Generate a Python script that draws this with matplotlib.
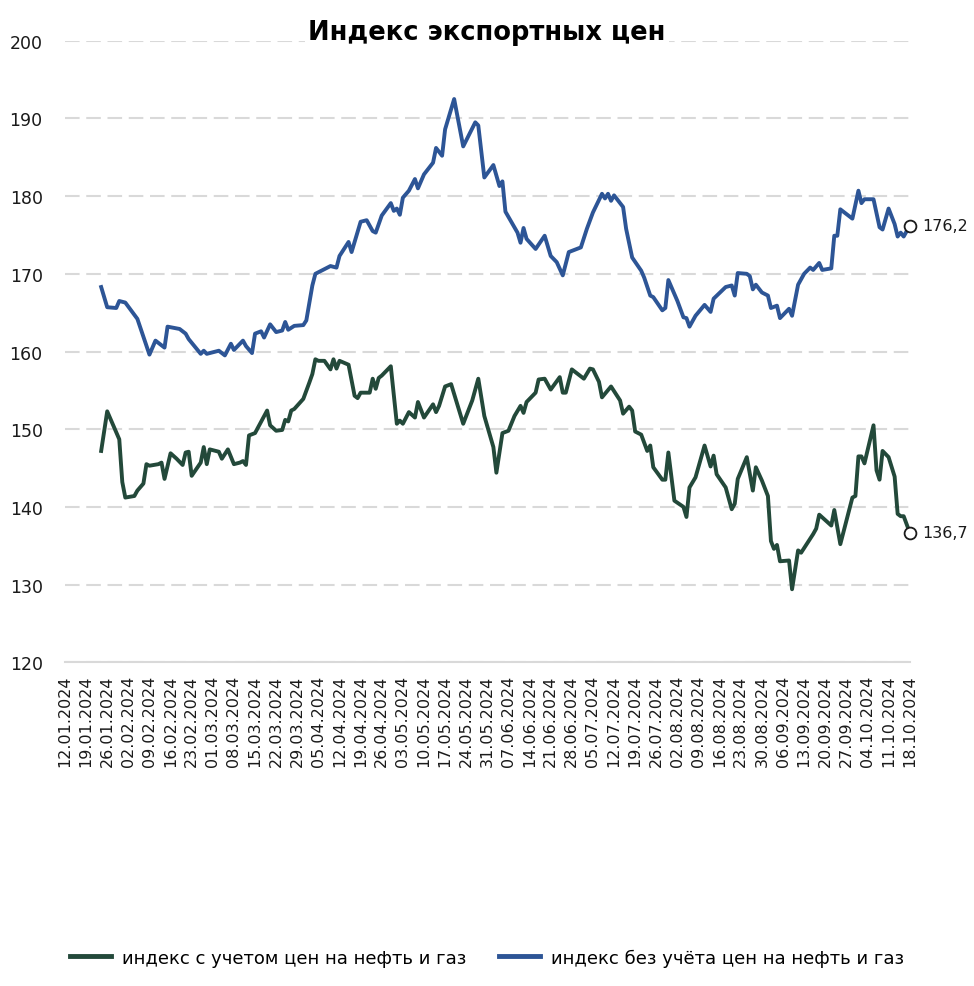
import matplotlib
matplotlib.use('Agg')
import matplotlib.pyplot as plt
import matplotlib.dates as mdates
import pandas as pd

# индекс с учетом цен на нефть и газ
green_dates = ["24.01", "26.01", "28.01", "30.01", "31.01", "01.02", "04.02", "05.02", "07.02", "08.02",
               "09.02", "12.02", "13.02", "14.02", "16.02", "18.02", "20.02", "21.02", "22.02", "23.02",
               "26.02", "27.02", "28.02", "29.02", "03.03", "04.03", "06.03", "08.03", "10.03", "11.03",
               "12.03", "13.03", "15.03", "19.03", "20.03", "22.03", "24.03", "25.03", "26.03", "27.03",
               "28.03", "31.03", "02.04", "03.04", "04.04", "05.04", "07.04", "09.04", "10.04", "11.04",
               "12.04", "15.04", "17.04", "18.04", "19.04", "22.04", "23.04", "24.04", "25.04", "26.04",
               "29.04", "01.05", "02.05", "03.05", "05.05", "07.05", "08.05", "10.05", "13.05", "14.05",
               "15.05", "17.05", "19.05", "23.05", "26.05", "28.05", "30.05", "02.06", "03.06", "05.06",
               "07.06", "09.06", "11.06", "12.06", "13.06", "16.06", "17.06", "19.06", "21.06", "24.06",
               "25.06", "26.06", "28.06", "02.07", "04.07", "05.07", "07.07", "08.07", "11.07", "14.07",
               "15.07", "17.07", "18.07", "19.07", "21.07", "23.07", "24.07", "25.07", "28.07", "29.07",
               "30.07", "01.08", "04.08", "05.08", "06.08", "08.08", "11.08", "13.08", "14.08", "15.08",
               "18.08", "20.08", "21.08", "22.08", "25.08", "27.08", "28.08", "30.08", "01.09", "02.09",
               "03.09", "04.09", "05.09", "08.09", "09.09", "11.09", "12.09", "16.09", "17.09", "18.09",
               "22.09", "23.09", "25.09", "29.09", "30.09", "01.10", "02.10", "03.10", "06.10", "07.10",
               "08.10", "09.10", "11.10", "13.10", "14.10", "15.10", "16.10", "18.10"]
green_vals = [147.2, 152.3, 150.5, 148.7, 143.2, 141.2, 141.4, 142.1, 143.0, 145.5,
              145.3, 145.5, 145.7, 143.6, 146.9, 146.2, 145.4, 147.0, 147.1, 144.0,
              145.7, 147.7, 145.5, 147.4, 147.1, 146.2, 147.4, 145.5, 145.7, 145.9,
              145.4, 149.2, 149.5, 152.4, 150.5, 149.8, 149.9, 151.2, 151.0, 152.4,
              152.6, 153.9, 156.0, 157.1, 159.0, 158.8, 158.8, 157.7, 159.0, 157.8,
              158.8, 158.3, 154.3, 154.0, 154.7, 154.7, 156.5, 155.2, 156.6, 156.9,
              158.1, 150.7, 151.1, 150.7, 152.2, 151.5, 153.5, 151.5, 153.2, 152.2,
              153.0, 155.5, 155.8, 150.7, 153.7, 156.5, 151.7, 147.7, 144.4, 149.5,
              149.8, 151.7, 153.0, 152.1, 153.5, 154.7, 156.4, 156.5, 155.1, 156.7,
              154.7, 154.7, 157.7, 156.5, 157.8, 157.7, 156.1, 154.1, 155.5, 153.7,
              152.0, 152.9, 152.4, 149.7, 149.3, 147.2, 147.9, 145.1, 143.5, 143.5,
              147.0, 140.8, 140.0, 138.7, 142.5, 143.8, 147.9, 145.2, 146.6, 144.2,
              142.5, 139.7, 140.4, 143.6, 146.4, 142.1, 145.1, 143.4, 141.4, 135.6,
              134.6, 135.1, 133.0, 133.1, 129.4, 134.4, 134.1, 136.5, 137.2, 139.0,
              137.6, 139.6, 135.2, 141.2, 141.4, 146.5, 146.5, 145.6, 150.5, 144.7,
              143.5, 147.2, 146.4, 143.9, 139.1, 138.8, 138.8, 136.7]

# индекс без учёта цен на нефть и газ
blue_dates = ["24.01", "26.01", "29.01", "30.01", "01.02", "05.02", "09.02", "11.02", "14.02", "15.02",
              "19.02", "21.02", "22.02", "26.02", "27.02", "28.02", "03.03", "05.03", "07.03", "08.03",
              "11.03", "12.03", "14.03", "15.03", "17.03", "18.03", "20.03", "22.03", "24.03", "25.03",
              "26.03", "28.03", "31.03", "01.04", "03.04", "04.04", "07.04", "09.04", "11.04", "12.04",
              "15.04", "16.04", "19.04", "21.04", "23.04", "24.04", "26.04", "29.04", "30.04", "01.05",
              "02.05", "03.05", "05.05", "07.05", "08.05", "10.05", "13.05", "14.05", "16.05", "17.05",
              "20.05", "23.05", "27.05", "28.05", "30.05", "02.06", "04.06", "05.06", "06.06", "10.06",
              "11.06", "12.06", "13.06", "16.06", "19.06", "21.06", "23.06", "25.06", "27.06", "01.07",
              "03.07", "05.07", "08.07", "09.07", "10.07", "11.07", "12.07", "15.07", "16.07", "18.07",
              "21.07", "22.07", "24.07", "25.07", "28.07", "29.07", "30.07", "02.08", "04.08", "05.08",
              "06.08", "08.08", "11.08", "13.08", "14.08", "18.08", "20.08", "21.08", "22.08", "25.08",
              "26.08", "27.08", "28.08", "30.08", "01.09", "02.09", "04.09", "05.09", "08.09", "09.09",
              "11.09", "13.09", "15.09", "16.09", "18.09", "19.09", "22.09", "23.09", "24.09", "25.09",
              "29.09", "01.10", "02.10", "03.10", "06.10", "08.10", "09.10", "11.10", "13.10", "14.10",
              "15.10", "16.10", "18.10"]
blue_vals = [168.3, 165.7, 165.6, 166.5, 166.3, 164.2, 159.6, 161.4, 160.5, 163.2,
             162.9, 162.3, 161.6, 159.7, 160.1, 159.7, 160.1, 159.5, 161.0, 160.2,
             161.4, 160.7, 159.8, 162.3, 162.6, 161.8, 163.5, 162.5, 162.7, 163.8,
             162.8, 163.3, 163.4, 164.0, 168.5, 170.0, 170.6, 171.0, 170.8, 172.3,
             174.1, 172.8, 176.7, 176.9, 175.5, 175.3, 177.5, 179.1, 178.1, 178.4,
             177.6, 179.8, 180.7, 182.2, 181.0, 182.8, 184.3, 186.2, 185.2, 188.6,
             192.5, 186.4, 189.5, 189.1, 182.4, 184.0, 181.3, 181.9, 178.0, 175.3,
             174.0, 175.9, 174.5, 173.2, 174.9, 172.3, 171.5, 169.8, 172.8, 173.4,
             175.8, 177.9, 180.3, 179.7, 180.3, 179.4, 180.1, 178.6, 175.8, 172.1,
             170.4, 169.5, 167.2, 167.0, 165.3, 165.6, 169.2, 166.5, 164.4, 164.3,
             163.2, 164.6, 166.0, 165.1, 166.8, 168.3, 168.5, 167.2, 170.1, 170.0,
             169.7, 168.0, 168.6, 167.6, 167.2, 165.6, 165.9, 164.3, 165.5, 164.6,
             168.6, 170.0, 170.8, 170.5, 171.4, 170.5, 170.7, 174.9, 174.9, 178.3,
             177.1, 180.7, 179.1, 179.6, 179.6, 176.0, 175.7, 178.4, 176.4, 174.8,
             175.3, 174.8, 176.2]

green_label = "индекс с учетом цен на нефть и газ"
blue_label = "индекс без учёта цен на нефть и газ"
title = "Индекс экспортных цен"

GREEN = "#23493a"
BLUE = "#2d5596"
GRID = "#d9d9d9"


def to_dates(lst):
    return pd.to_datetime([d + ".2024" for d in lst], format="%d.%m.%Y")


def main():
    gd = to_dates(green_dates)
    bd = to_dates(blue_dates)

    fig = plt.figure(figsize=(9.74, 9.87), dpi=100)
    ax = fig.add_axes([0.0667, 0.328, 0.8673, 0.6297])

    l1, = ax.plot(gd, green_vals, color=GREEN, lw=2.8, solid_joinstyle="round", zorder=3)
    l2, = ax.plot(bd, blue_vals, color=BLUE, lw=2.8, solid_joinstyle="round", zorder=3)

    # last point markers and labels
    for d, v in ((gd[-1], green_vals[-1]), (bd[-1], blue_vals[-1])):
        ax.plot([d], [v], marker="o", ms=8.5, mfc="white", mec="#1a1a1a", mew=1.3,
                zorder=5, clip_on=False)
        ax.annotate("{:.1f}".format(v).replace(".", ","), (d, v), xytext=(9, 0),
                    textcoords="offset points", va="center", ha="left",
                    fontsize=11.5, color="#1a1a1a", annotation_clip=False)

    ax.set_ylim(120, 200)
    ax.set_yticks(range(120, 201, 10))
    ax.set_xlim(pd.Timestamp("2024-01-12"), pd.Timestamp("2024-10-18"))
    ticks = pd.date_range("2024-01-12", "2024-10-18", freq="7D")
    ax.set_xticks(ticks)
    ax.xaxis.set_major_formatter(mdates.DateFormatter("%d.%m.%Y"))
    plt.setp(ax.get_xticklabels(), rotation=90, fontsize=11.5, color="#1a1a1a")
    plt.setp(ax.get_yticklabels(), fontsize=12.5, color="#1a1a1a")
    ax.tick_params(axis="both", length=0)
    ax.tick_params(axis="y", pad=16)
    ax.tick_params(axis="x", pad=9)

    ax.grid(axis="y", color=GRID, lw=1.5, linestyle=(0, (7, 3.2)), zorder=0)
    ax.grid(axis="x", visible=False)
    for s in ("top", "right", "left"):
        ax.spines[s].set_visible(False)
    ax.spines["bottom"].set_color(GRID)
    ax.spines["bottom"].set_linewidth(1.5)

    fig.text(0.5, 0.9666, title, ha="center", va="center", fontsize=18.5, fontweight="bold",
             color="black", zorder=10,
             bbox=dict(facecolor="white", edgecolor="none", pad=2))

    leg = fig.legend([l1, l2], [green_label, blue_label], loc="center", ncol=2,
                     bbox_to_anchor=(0.5, 0.029), frameon=False, handlelength=2.3,
                     handletextpad=0.6, columnspacing=1.8,
                     prop={"size": 13})
    for h in leg.legend_handles:
        h.set_linewidth(3.5)

    fig.savefig("out.png", dpi=100)


if __name__ == '__main__':
    main()
